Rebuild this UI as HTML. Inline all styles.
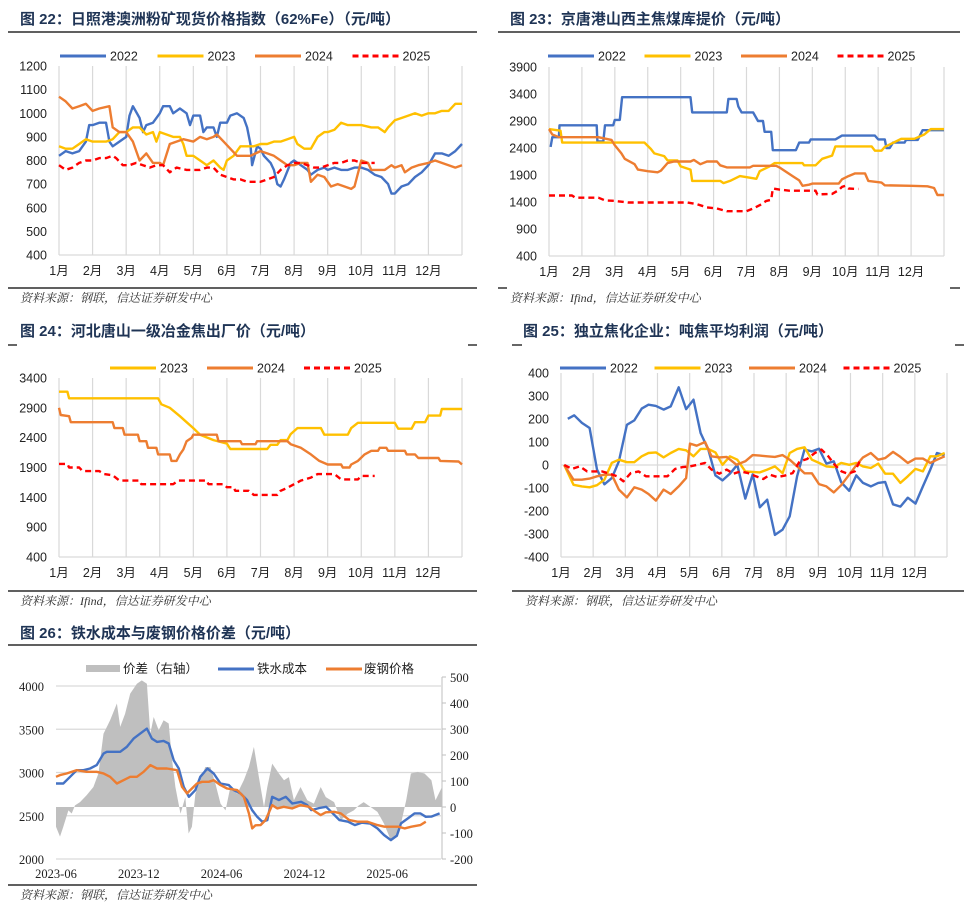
<!DOCTYPE html>
<html><head><meta charset="utf-8">
<style>
html,body{margin:0;padding:0;background:#fff;}
svg{display:block;font-family:"Liberation Sans","Noto Sans CJK SC",sans-serif;}
.t{font-size:15px;font-weight:bold;fill:#1f3455;}
.tk{font-size:12.5px;fill:#222;}
.src{font-size:12px;fill:#333;font-style:italic;font-family:"Liberation Serif","Noto Serif CJK SC",serif;}
.lg{font-size:12.5px;fill:#222;}
</style></head>
<body>
<svg id="root" width="980" height="908" viewBox="0 0 980 908" xmlns="http://www.w3.org/2000/svg">
<g>
<text class="t" x="20" y="24">图 22：日照港澳洲粉矿现货价格指数（62%Fe）（元/吨）</text>
<line x1="8" y1="32" x2="477" y2="32" stroke="#000" stroke-width="1.2"/>
<line x1="8" y1="288" x2="477" y2="288" stroke="#000" stroke-width="1.2"/>
<text class="src" x="20" y="302">资料来源：钢联，信达证券研发中心</text>
</g>
<g>
<text class="t" x="510" y="24">图 23：京唐港山西主焦煤库提价（元/吨）</text>
<line x1="498" y1="32" x2="960" y2="32" stroke="#000" stroke-width="1.2"/>
<line x1="498" y1="288" x2="507" y2="288" stroke="#000" stroke-width="1.2"/>
<line x1="950" y1="288" x2="960" y2="288" stroke="#000" stroke-width="1.2"/>
<text class="src" x="510" y="302">资料来源：Ifind，信达证券研发中心</text>
</g>
<g>
<text class="t" x="20" y="336">图 24：河北唐山一级冶金焦出厂价（元/吨）</text>
<line x1="8" y1="345" x2="17" y2="345" stroke="#000" stroke-width="1.2"/>
<line x1="468" y1="345" x2="477" y2="345" stroke="#000" stroke-width="1.2"/>
<line x1="8" y1="591" x2="477" y2="591" stroke="#000" stroke-width="1.2"/>
<text class="src" x="20" y="605">资料来源：Ifind，信达证券研发中心</text>
</g>
<g>
<text class="t" x="523" y="336">图 25：独立焦化企业：吨焦平均利润（元/吨）</text>
<line x1="512" y1="345" x2="522" y2="345" stroke="#000" stroke-width="1.2"/>
<line x1="955" y1="345" x2="964" y2="345" stroke="#000" stroke-width="1.2"/>
<line x1="512" y1="591" x2="964" y2="591" stroke="#000" stroke-width="1.2"/>
<text class="src" x="525" y="605">资料来源：钢联，信达证券研发中心</text>
</g>
<g>
<text class="t" x="20" y="638">图 26：铁水成本与废钢价格价差（元/吨）</text>
<line x1="8" y1="645" x2="477" y2="645" stroke="#000" stroke-width="1.2"/>
<line x1="8" y1="885" x2="477" y2="885" stroke="#000" stroke-width="1.2"/>
<text class="src" x="20" y="899">资料来源：钢联，信达证券研发中心</text>
</g>
</svg>
<script>
// ===== Chart 22 data (x = month position 0..12, value = yuan/ton)
const c22Months=["1月","2月","3月","4月","5月","6月","7月","8月","9月","10月","11月","12月"];
const c22Ticks=[400,500,600,700,800,900,1000,1100,1200];
const c22x2022=[0,.2,.4,.6,.8,.9,1,1.2,1.4,1.5,1.6,1.8,2,2.1,2.2,2.4,2.5,2.6,2.8,3,3.1,3.3,3.4,3.6,3.8,3.9,4,4.2,4.3,4.4,4.6,4.7,4.8,5,5.1,5.3,5.5,5.6,5.7,5.75,5.9,6,6.1,6.3,6.4,6.5,6.6,6.7,6.9,7,7.2,7.4,7.5,7.7,7.9,8,8.2,8.4,8.6,8.8,9,9.2,9.4,9.6,9.8,9.9,10,10.2,10.4,10.6,10.8,11,11.2,11.4,11.6,11.8,12];
const c22v2022=[820,840,830,840,880,950,950,960,960,880,860,880,900,990,1030,980,920,950,960,1000,1030,1030,1000,1020,1000,950,990,990,920,940,940,900,960,960,990,1000,980,940,870,780,860,850,820,790,760,700,690,720,790,800,780,760,740,760,770,760,770,760,760,770,770,760,740,730,700,660,660,690,700,730,750,780,830,830,820,840,870];
const c22x2023=[0,.2,.4,.6,.8,1,1.2,1.4,1.6,1.8,2,2.2,2.4,2.6,2.8,2.9,3,3.2,3.4,3.6,3.7,3.8,4,4.2,4.4,4.6,4.8,4.9,5,5.2,5.4,5.6,5.8,6,6.2,6.4,6.6,6.8,7,7.1,7.3,7.5,7.7,7.9,8,8.2,8.4,8.6,8.8,9,9.3,9.5,9.7,9.8,10,10.2,10.4,10.6,10.8,11,11.2,11.4,11.6,11.8,12];
const c22v2023=[860,850,850,870,890,880,880,880,890,920,920,940,940,910,920,880,920,910,900,900,870,820,820,800,780,800,770,760,800,820,860,860,860,870,870,880,880,890,900,870,850,850,900,920,920,930,960,950,950,950,940,940,920,940,970,980,990,1000,990,1000,1000,1010,1010,1040,1040];
const c22x2024=[0,.2,.4,.6,.8,1,1.2,1.5,1.6,1.8,2,2.2,2.4,2.6,2.8,3,3.1,3.3,3.5,3.7,4,4.2,4.4,4.6,4.7,4.9,5.1,5.3,5.5,5.7,6,6.2,6.4,6.6,6.8,7,7.2,7.4,7.5,7.7,7.9,8.1,8.3,8.5,8.7,8.8,9,9.2,9.3,9.5,9.7,9.9,10,10.2,10.3,10.5,10.7,11,11.2,11.4,11.6,11.8,12];
const c22v2024=[1070,1050,1020,1030,1040,1010,1020,1030,940,920,920,880,800,830,790,790,780,870,880,890,880,900,890,900,910,880,850,820,820,820,840,830,820,800,780,780,790,790,710,740,730,690,700,690,680,690,800,790,760,760,760,780,770,780,750,770,780,790,800,790,780,770,780];
const c22x2025=[0,.2,.4,.6,.8,1,1.2,1.4,1.6,1.7,1.9,2.1,2.3,2.5,2.7,2.9,3.1,3.3,3.5,3.8,4,4.2,4.4,4.6,4.8,5,5.2,5.4,5.6,5.8,6,6.2,6.4,6.6,6.8,7,7.2,7.4,7.6,7.8,8,8.2,8.4,8.6,8.8,9,9.2,9.4];
const c22v2025=[780,760,770,790,800,800,810,810,820,810,780,780,790,780,770,780,780,750,770,760,760,760,770,770,740,730,720,720,710,710,710,720,730,760,780,790,790,780,770,770,780,790,790,800,800,790,790,790];

// ===== Chart 23 data
const c23Ticks=[400,900,1400,1900,2400,2900,3400,3900];
const c23x2022=[.05,.1,.3,.32,1.45,1.47,1.65,1.7,1.95,2,2.15,2.22,4.3,4.35,5.4,5.45,5.7,5.75,5.85,6.2,6.35,6.5,6.55,6.75,6.8,7.5,7.6,7.9,7.95,8.7,8.9,9.9,10,10.2,10.25,10.35,10.45,10.8,10.85,11.2,11.35,12];
const c23v2022=[2420,2600,2600,2820,2820,2520,2520,2820,2820,2920,2920,3340,3340,3060,3060,3310,3310,3170,3060,3060,2900,2900,2700,2700,2360,2360,2500,2500,2560,2560,2630,2630,2560,2560,2400,2400,2500,2500,2550,2550,2730,2730];
const c23x2023=[0,.35,.4,2.9,3.1,3.2,3.5,3.6,3.9,4,4.3,4.35,5.2,5.3,5.5,5.8,6.1,6.3,6.4,6.7,6.85,7.7,7.75,8.1,8.3,8.6,8.7,9.8,9.9,10.1,10.2,10.4,10.7,11.1,11.4,11.6,12];
const c23v2023=[2750,2720,2500,2500,2380,2300,2250,2170,2170,2060,2000,1790,1790,1750,1790,1880,1850,1830,1970,2060,2120,2120,2080,2080,2200,2260,2430,2430,2350,2350,2420,2480,2570,2570,2650,2750,2750];
const c23x2024=[0,.1,.3,1.5,1.9,2,2.2,2.3,2.6,2.7,3,3.3,3.4,3.6,3.8,4.3,4.4,4.6,4.8,5.1,5.2,5.4,6.1,6.2,6.9,7,7.2,7.4,7.6,7.7,7.9,8,8.8,8.9,9.1,9.3,9.6,9.7,10.1,10.2,11,11.5,11.7,11.8,12];
const c23v2024=[2750,2650,2600,2600,2550,2450,2300,2200,2100,2000,1970,1950,1980,2120,2150,2150,2180,2100,2150,2150,2080,2040,2040,2070,2070,2040,1960,1880,1800,1700,1720,1740,1740,1820,1880,1930,1930,1790,1760,1710,1700,1690,1660,1530,1530];
const c23x2025=[0,.7,.8,1.5,1.7,2,2.4,4.2,4.5,4.8,5.1,5.4,6,6.2,6.4,6.6,6.75,6.8,7,7.3,8.1,8.15,8.6,8.8,8.9,9,9.1,9.4];
const c23v2025=[1520,1520,1480,1480,1430,1420,1390,1390,1360,1300,1280,1230,1230,1280,1340,1420,1440,1650,1630,1610,1610,1540,1550,1620,1680,1700,1650,1640];

// ===== Chart 24 data
const c24Ticks=[400,900,1400,1900,2400,2900,3400];
const c24x2023=[0,.25,.3,2.95,3.05,3.3,3.6,3.8,4,4.2,4.6,5,5.1,6.2,6.3,6.5,6.6,6.8,6.9,7.1,7.8,7.9,8.6,8.7,8.9,10,10.1,10.5,10.6,10.9,11,11.35,11.4,12];
const c24v2023=[3170,3170,3060,3060,2960,2900,2760,2660,2560,2450,2360,2300,2210,2210,2280,2280,2360,2360,2460,2560,2560,2450,2450,2560,2650,2650,2550,2550,2660,2660,2770,2770,2880,2880];
const c24x2024=[0,.05,.3,.35,1.6,1.65,1.9,1.95,2.35,2.4,2.6,2.65,2.9,2.95,3.3,3.35,3.5,3.6,3.7,3.8,3.95,4,4.7,4.75,5.4,5.45,5.85,5.9,6.8,6.9,7.2,7.5,7.75,8,8.4,8.45,8.65,8.7,8.9,9.1,9.3,9.5,9.55,9.75,9.8,10.3,10.35,10.6,10.7,11.3,11.35,11.9,12];
const c24v2024=[2900,2780,2760,2660,2660,2560,2560,2450,2450,2340,2340,2230,2230,2120,2120,2010,2010,2120,2200,2340,2400,2450,2450,2340,2340,2290,2290,2340,2340,2290,2230,2120,2010,1950,1950,1900,1900,1950,2010,2120,2180,2180,2230,2230,2180,2180,2120,2120,2060,2060,2010,2000,1950];
const c24x2025=[0,.25,.3,.6,.7,1.2,1.35,1.6,1.8,2.4,2.45,3.4,3.55,4.4,4.45,4.9,5,5.2,5.25,5.65,5.8,6.5,6.6,6.8,7,7.2,7.5,7.7,8.2,8.4,8.9,9,9.4];
const c24v2025=[1960,1960,1900,1900,1840,1840,1790,1770,1680,1680,1620,1620,1680,1680,1620,1620,1570,1570,1510,1510,1440,1440,1510,1560,1620,1680,1730,1790,1790,1700,1700,1760,1760];

// ===== Chart 25 data
const c25Ticks=[-400,-300,-200,-100,0,100,200,300,400];
const c25x2022=[.21,.41,.65,.89,1.12,1.35,1.58,1.8,2.05,2.28,2.51,2.72,2.95,3.19,3.41,3.66,3.89,4.12,4.34,4.58,4.8,5.02,5.25,5.48,5.73,5.96,6.18,6.41,6.65,6.89,7.11,7.34,7.57,7.8,8.02,8.25,8.48,8.71,8.96,9.18,9.39,9.63,9.86,10.08,10.32,10.55,10.78,11.02,11.25,11.48,11.69,11.93];
const c25v2022=[201,216,183,161,-20,-84,-57,16,175,194,245,262,257,241,255,338,243,284,139,67,-45,-67,-38,1,-146,-41,-184,-151,-304,-281,-223,-49,67,59,71,6,16,-75,-112,-45,-78,-93,-78,-74,-171,-181,-142,-168,-93,-20,52,42];
const c25x2023=[.1,.39,.65,.89,1.12,1.35,1.58,1.8,2.05,2.28,2.51,2.72,2.95,3.19,3.41,3.66,3.89,4.12,4.34,4.58,4.8,5.02,5.25,5.48,5.73,5.96,6.18,6.41,6.65,6.89,7.11,7.34,7.57,7.8,8.02,8.25,8.48,8.71,8.96,9.18,9.39,9.63,9.86,10.08,10.32,10.55,10.78,11.02,11.25,11.48,11.69,11.93];
const c25v2023=[0,-86,-93,-97,-88,-64,9,23,12,12,38,52,55,33,52,70,64,38,70,70,55,1,38,23,-28,-30,-32,-20,-6,-35,52,70,77,23,9,-6,-9,9,1,9,-6,-13,6,-38,-38,-78,-49,-17,-28,38,38,52];
const c25x2024=[.1,.39,.65,.89,1.12,1.35,1.58,1.8,2.05,2.28,2.51,2.72,2.95,3.19,3.41,3.66,3.89,4.01,4.22,4.48,4.68,4.92,5.15,5.46,5.73,5.96,6.18,6.41,6.65,6.89,7.11,7.34,7.57,7.8,8.02,8.25,8.48,8.71,8.96,9.18,9.39,9.63,9.86,10.08,10.32,10.55,10.78,11.02,11.25,11.48,11.69,11.93];
const c25v2024=[0,-64,-64,-59,-49,-42,-42,-107,-141,-97,-107,-126,-155,-107,-126,-93,-57,93,84,100,38,33,35,1,16,43,41,38,35,43,23,-6,-36,-36,-83,-93,-119,-88,-42,-1,33,52,23,30,57,35,9,28,28,9,23,38];
const c25x2025=[.1,.34,.58,.81,1.03,1.27,1.51,1.74,1.94,2.17,2.41,2.64,2.87,3.1,3.31,3.55,3.78,4.01,4.24,4.48,4.68,4.92,5.15,5.36,5.58,5.82,6.06,6.29,6.49,6.72,6.96,7.2,7.42,7.65,7.89,8.1,8.31,8.51,8.72,8.92,9.13,9.29];
const c25v2025=[0,-17,-6,-28,-28,-28,-38,-49,-71,-35,-28,-49,-49,-49,-49,-17,-9,-6,1,9,-20,-38,-20,-38,-28,-35,-49,-61,-42,-52,-46,-35,16,26,52,67,38,1,-28,-38,-28,16];

// ===== Chart 26 data (x = months since 2023-06)
const c26Dates=["2023-06","2023-12","2024-06","2024-12","2025-06"];
const c26DateMonths=[0,6,12,18,24];
const c26LeftTicks=[2000,2500,3000,3500,4000];
const c26RightTicks=[-200,-100,0,100,200,300,400,500];
const c26xCost=[0,.53,1.02,1.5,1.99,2.47,2.95,3.44,3.68,4.16,4.65,5.13,5.62,6.1,6.59,6.95,7.32,7.8,8.17,8.53,8.9,9.25,9.63,10.1,10.46,10.97,11.43,11.92,12.52,12.88,13.37,13.85,14.21,14.58,14.95,15.31,15.67,16.15,16.65,17.12,17.76,18.2,18.5,19.09,19.58,19.94,20.54,21.16,21.65,22.15,22.76,23.29,23.77,24.26,24.7,25.0,25.5,25.98,26.4,26.8,27.2,27.8];
const c26vCost=[2873,2873,2950,3027,3027,3046,3085,3219,3239,3239,3239,3296,3392,3450,3508,3392,3354,3365,3335,3142,3046,2835,2719,2796,2950,3046,2988,2873,2854,2796,2758,2681,2565,2488,2431,2450,2719,2681,2719,2642,2661,2623,2565,2590,2604,2546,2450,2431,2392,2420,2410,2354,2277,2219,2270,2412,2469,2527,2527,2488,2490,2527];
const c26xScrap=[0,.29,.77,1.5,2.22,2.95,3.44,3.92,4.41,4.89,5.38,5.86,6.35,6.83,7.32,8.04,8.77,9.13,9.49,9.85,10.22,10.59,11.07,11.43,11.92,12.4,13.13,13.61,13.98,14.22,14.46,14.82,15.18,15.67,16.03,16.5,17.12,17.72,18.33,18.81,19.18,19.55,20.15,20.64,21.25,21.85,22.57,23.3,23.8,24.3,24.8,25.26,25.75,26.4,26.8];
const c26vScrap=[2950,2970,2988,3027,3008,3008,2990,2950,2873,2911,2950,2950,3008,3085,3046,3046,3027,2835,2758,2815,2873,2892,2892,2911,2854,2815,2796,2719,2527,2354,2390,2392,2450,2623,2585,2604,2585,2623,2604,2546,2508,2540,2546,2527,2450,2431,2431,2392,2373,2373,2373,2354,2373,2392,2431];
const c26xSpread=[0,.29,.53,.9,1.14,1.38,1.74,2.22,2.71,3.07,3.44,3.92,4.41,4.65,5.01,5.38,5.86,6.22,6.59,6.83,7.08,7.44,7.8,8.17,8.41,8.65,9.02,9.37,9.61,9.85,10.1,10.46,10.82,11.19,11.55,11.92,12.28,12.64,13.13,13.61,13.98,14.34,14.7,15.07,15.31,15.67,16.15,16.52,16.88,17.24,17.72,18.21,18.69,19.18,19.55,20.15,20.64,21.13,21.58,21.94,22.3,22.8,23.29,23.77,24.26,24.75,25.0,25.38,25.72,26.2,26.7,27.2,27.5,27.97];
const c26vSpread=[-76,-114,-76,-13,-25,6,19,45,77,129,282,334,398,308,359,436,474,487,474,282,346,295,334,321,180,77,-26,38,-102,-76,51,103,154,154,90,13,-13,77,51,103,154,231,115,0,77,167,129,103,115,26,77,26,13,77,38,19,-51,-26,-13,6,19,0,-19,-64,-128,-115,-64,26,129,135,129,103,26,77];

// ===== rendering
const NS="http://www.w3.org/2000/svg";
const root=document.getElementById('root');
function el(tag,attrs,parent){const e=document.createElementNS(NS,tag);for(const k in attrs)e.setAttribute(k,attrs[k]);(parent||root).appendChild(e);return e;}
const BLUE="#4472c4",YEL="#ffc000",ORG="#ed7d31",RED="#ff0000";

function monthChart(cfg){
  const g=el('g',{});
  
  
  const X=m=>cfg.x0+(cfg.x1-cfg.x0)*m/12;
  const Y=v=>cfg.y1-(v-cfg.vmin)/(cfg.vmax-cfg.vmin)*(cfg.y1-cfg.y0);
  for(let i=0;i<=12;i++){
    const l=el('line',{x1:X(i),x2:X(i),y1:cfg.y0,y2:cfg.y1,stroke:'#d9d9d9','stroke-width':1.2},g);
    
    
  }
  const ax=el('line',{x1:cfg.x0,x2:cfg.x1,y1:cfg.y1,y2:cfg.y1,stroke:'#d9d9d9','stroke-width':1.2},g);
  
  
  if(cfg.zero!==undefined){
    const z=el('line',{x1:cfg.x0,x2:cfg.x1,y1:Y(cfg.zero),y2:Y(cfg.zero),stroke:'#d9d9d9','stroke-width':1.2},g);
    
    
  }
  cfg.ticks.forEach(t=>{
    const tx=el('text',{x:cfg.x0-12,y:Y(t)+4.5,'text-anchor':'end',class:'tk'},g);
    tx.textContent=t;
    
    
  });
  c22Months.forEach((m,i)=>{
    const tx=el('text',{x:X(i),y:cfg.y1+20,'text-anchor':'middle',class:'tk'},g);
    tx.textContent=m;
    
    
  });
  cfg.series.forEach(s=>{
    const d=s.x.map((m,i)=>(i?'L':'M')+X(m).toFixed(1)+' '+Y(s.v[i]).toFixed(1)).join(' ');
    const p=el('path',{d:d,fill:'none',stroke:s.c,'stroke-width':2.4,'stroke-linejoin':'round'},g);
    if(s.dash)p.setAttribute('stroke-dasharray','6 4');
    
    
  });
  cfg.legend.forEach((s,i)=>{
    const lx=cfg.legX+i*cfg.legStep;
    const l=el('line',{x1:lx,x2:lx+46,y1:cfg.legY,y2:cfg.legY,stroke:s.c,'stroke-width':3},g);
    if(s.dash)l.setAttribute('stroke-dasharray','6 4');
    
    
    const t=el('text',{x:lx+50,y:cfg.legY+4.5,class:'lg'},g);
    t.textContent=s.label;
    
    
  });
}

const s22=[{label:'2022',x:c22x2022,v:c22v2022,c:BLUE},{label:'2023',x:c22x2023,v:c22v2023,c:YEL},{label:'2024',x:c22x2024,v:c22v2024,c:ORG},{label:'2025',x:c22x2025,v:c22v2025,c:RED,dash:1}];
monthChart({name:'chart-22-iron-ore',x0:59,x1:462,y0:66,y1:255,vmin:400,vmax:1200,ticks:c22Ticks,series:s22,legend:s22,legX:60,legY:56,legStep:97.5});
const s23=[{label:'2022',x:c23x2022,v:c23v2022,c:BLUE},{label:'2023',x:c23x2023,v:c23v2023,c:YEL},{label:'2024',x:c23x2024,v:c23v2024,c:ORG},{label:'2025',x:c23x2025,v:c23v2025,c:RED,dash:1}];
monthChart({name:'chart-23-coking-coal',x0:549,x1:944,y0:67,y1:256,vmin:400,vmax:3900,ticks:c23Ticks,series:s23,legend:s23,legX:548,legY:56,legStep:96.5});
const s24=[{label:'2023',x:c24x2023,v:c24v2023,c:YEL},{label:'2024',x:c24x2024,v:c24v2024,c:ORG},{label:'2025',x:c24x2025,v:c24v2025,c:RED,dash:1}];
monthChart({name:'chart-24-coke-price',x0:59,x1:462,y0:378,y1:557,vmin:400,vmax:3400,ticks:c24Ticks,series:s24,legend:s24,legX:110,legY:368,legStep:97});
const s25=[{label:'2022',x:c25x2022,v:c25v2022,c:BLUE},{label:'2023',x:c25x2023,v:c25v2023,c:YEL},{label:'2024',x:c25x2024,v:c25v2024,c:ORG},{label:'2025',x:c25x2025,v:c25v2025,c:RED,dash:1}];
monthChart({name:'chart-25-coke-profit',x0:561,x1:947,y0:373,y1:557,vmin:-400,vmax:400,zero:0,ticks:c25Ticks,series:s25,legend:s25,legX:560,legY:368,legStep:94.5});

// chart 26
(function(){
  const g=el('g',{});
  
  
  const x0=56,pxm=13.8,y0=686,y1=859;
  const X=m=>x0+m*pxm;
  const YL=v=>y1-(v-2000)/2000*(y1-y0);
  const YR=v=>859-(v+200)/700*(859-677);
  c26LeftTicks.forEach(t=>{
    const l=el('line',{x1:56,x2:441,y1:YL(t),y2:YL(t),stroke:'#d9d9d9','stroke-width':1.2},g);
    
    
    const tx=el('text',{x:44,y:YL(t)+5,'text-anchor':'end',class:'tk','font-family':'Liberation Serif, serif'},g);
    tx.textContent=t;
    
    
  });
  const area='M'+X(c26xSpread[0])+' '+YR(0)+' '+c26xSpread.map((m,i)=>'L'+X(m).toFixed(1)+' '+YR(c26vSpread[i]).toFixed(1)).join(' ')+' L'+X(c26xSpread[c26xSpread.length-1])+' '+YR(0)+' Z';
  const a=el('path',{d:area,fill:'#bfbfbf'},g);
  
  
  const ra=el('line',{x1:442,x2:442,y1:677,y2:859,stroke:'#bfbfbf','stroke-width':1},g);
  
  
  c26RightTicks.forEach(t=>{
    const l=el('line',{x1:442,x2:446,y1:YR(t),y2:YR(t),stroke:'#bfbfbf'},g);
    
    
    const tx=el('text',{x:450,y:YR(t)+5,class:'tk','font-family':'Liberation Serif, serif'},g);
    tx.textContent=t;
    
    
  });
  [[c26xCost,c26vCost,BLUE,'hot-metal-cost'],[c26xScrap,c26vScrap,ORG,'scrap-price']].forEach(s=>{
    const d=s[0].map((m,i)=>(i?'L':'M')+X(m).toFixed(1)+' '+YL(s[1][i]).toFixed(1)).join(' ');
    const p=el('path',{d:d,fill:'none',stroke:s[2],'stroke-width':2.4,'stroke-linejoin':'round'},g);
    
    
  });
  c26Dates.forEach((t,i)=>{
    const tx=el('text',{x:X(c26DateMonths[i]),y:878,'text-anchor':'middle',class:'tk','font-family':'Liberation Serif, serif'},g);
    tx.textContent=t;
    
    
  });
  const r=el('rect',{x:86,y:665,width:34,height:7,fill:'#bfbfbf'},g);
  
  
  const t1=el('text',{x:123,y:673,class:'lg'},g);t1.textContent='价差（右轴）';
  
  
  const l2=el('line',{x1:218,x2:254,y1:669,y2:669,stroke:BLUE,'stroke-width':3},g);
  
  
  const t2=el('text',{x:257,y:673,class:'lg'},g);t2.textContent='铁水成本';
  
  
  const l3=el('line',{x1:326,x2:362,y1:669,y2:669,stroke:ORG,'stroke-width':3},g);
  
  
  const t3=el('text',{x:364,y:673,class:'lg'},g);t3.textContent='废钢价格';
  
  
})();
</script>
</body></html>
